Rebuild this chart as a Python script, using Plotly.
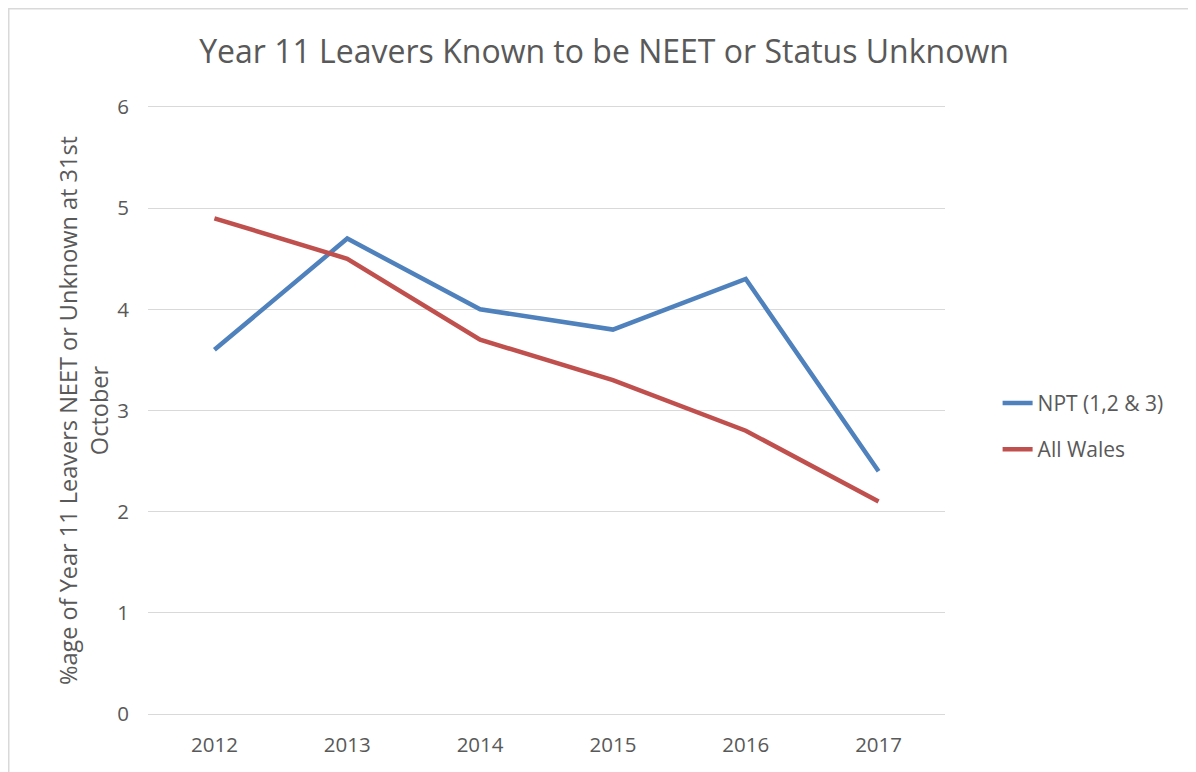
import plotly.graph_objects as go

years = ["2012", "2013", "2014", "2015", "2016", "2017"]
npt = [3.6, 4.7, 4.0, 3.8, 4.3, 2.4]
all_wales = [4.9, 4.5, 3.7, 3.3, 2.8, 2.1]
y_ticks = [0, 1, 2, 3, 4, 5, 6]

FONT = "Open Sans"
GREY = "#595959"
GRID = "#D9D9D9"

L, R, T, B = 140, 259, 99, 66
PW = 1196 - L - R
PH = 772 - T - B

fig = go.Figure()
fig.add_trace(go.Scatter(x=years, y=npt, mode="lines", name="NPT (1,2 & 3)",
                         legendgroup="a",
                         line=dict(color="#4F81BD", width=4.5)))
fig.add_trace(go.Scatter(x=years, y=all_wales, mode="lines", name="All Wales",
                         legendgroup="b",
                         line=dict(color="#C0504D", width=4.5)))

fig.update_layout(
    width=1196, height=772,
    margin=dict(l=L, r=R, t=T, b=B),
    paper_bgcolor="white", plot_bgcolor="white",
    font=dict(family=FONT, color=GREY, size=20),
    title=dict(text="Year 11 Leavers Known to be NEET or Status Unknown",
               x=596 / 1196, xanchor="center", y=1 - 44 / 772, yanchor="middle",
               font=dict(size=32, color=GREY, family=FONT)),
    xaxis=dict(type="category", range=[-0.5, 5.5], showgrid=False,
               showline=True, linecolor=GRID, linewidth=1.3, mirror=True, ticks="",
               tickfont=dict(size=20.5, color=GREY), ticklabelstandoff=12),
    yaxis=dict(range=[0, 6], tickvals=y_ticks, showgrid=True, gridcolor=GRID,
               gridwidth=1.3, zeroline=False, showline=False, ticks="",
               tickfont=dict(size=20.5, color=GREY), ticklabelstandoff=18,
               title=dict(text="%age of Year 11 Leavers NEET or Unknown at 31st<br>October",
                          font=dict(size=23.5, color=GREY, family=FONT), standoff=2)),
    legend=dict(x=1.066, y=0.474, xanchor="left", yanchor="middle",
                font=dict(size=21, color=GREY, family=FONT), tracegroupgap=16,
                bgcolor="rgba(0,0,0,0)"),
    showlegend=True,
    shapes=[dict(type="rect", xref="paper", yref="paper",
                 x0=(0.5 - L) / PW, x1=(1300 - L) / PW,
                 y0=(772 - B - 900) / PH, y1=(772 - B - 0.5) / PH,
                 line=dict(color=GRID, width=2), layer="below")],
)

fig.write_html("out.html")
